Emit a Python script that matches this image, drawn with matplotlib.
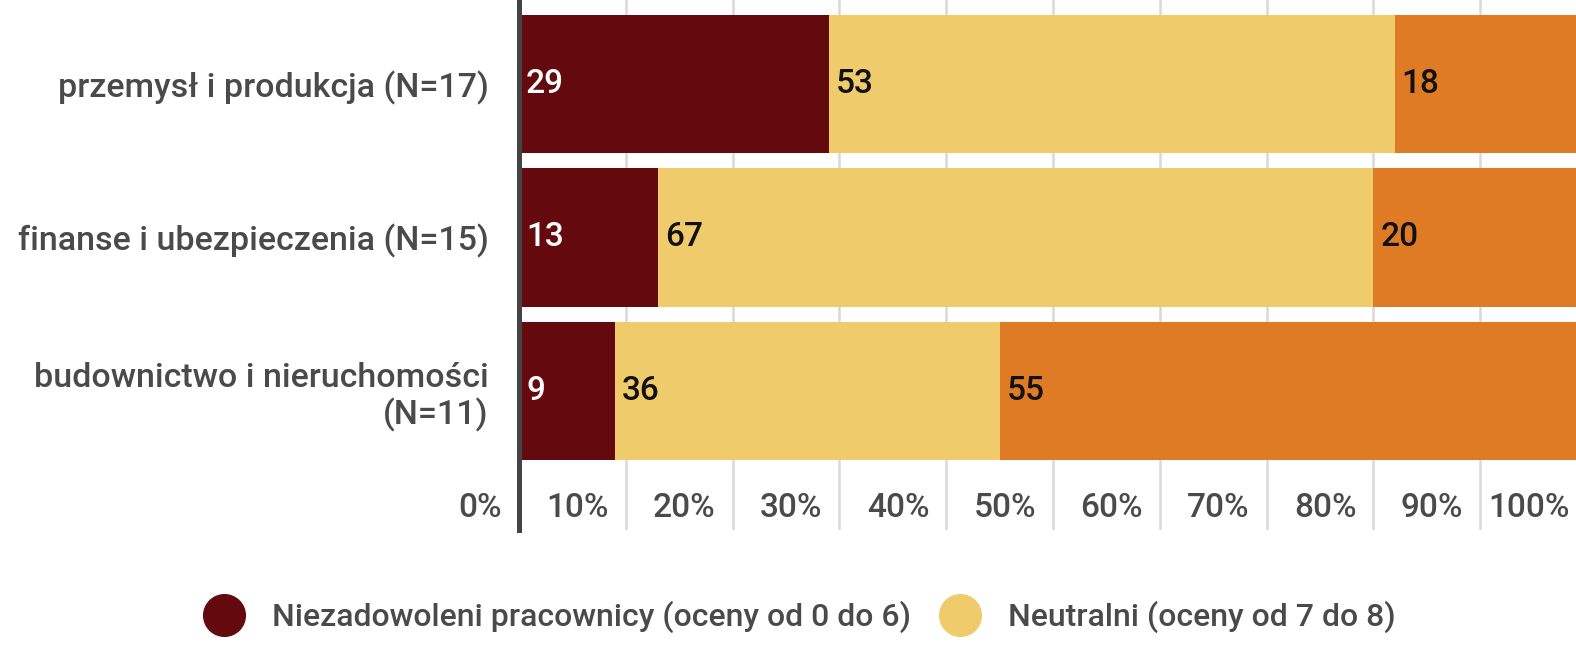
import numpy as np
import matplotlib
matplotlib.use('Agg')
from matplotlib import pyplot as plt
from matplotlib.lines import Line2D
from matplotlib.transforms import ScaledTranslation, blended_transform_factory

plt.rcParams['font.family'] = ['Roboto', 'DejaVu Sans']
plt.rcParams['font.weight'] = 'medium'

# Data
categories = ['przemysł i produkcja (N=17)',
              'finanse i ubezpieczenia (N=15)',
              'budownictwo i nieruchomości\n(N=11)']
niezadowoleni = [29, 13, 9]
neutralni = [53, 67, 36]
zadowoleni = [18, 20, 55]
series_names = ['Niezadowoleni pracownicy (oceny od 0 do 6)',
                'Neutralni (oceny od 7 do 8)']
ticks = [0, 10, 20, 30, 40, 50, 60, 70, 80, 90, 100]
tick_labels = ['%d%%' % t for t in ticks]

colors = ['#640a0f', '#f0cb6b', '#e07b25']
text_colors = ['white', '#111111', '#111111']
grey = '#4a4a4a'

W, H = 1576, 664
fig = plt.figure(figsize=(W / 100, H / 100), dpi=100)
ax = fig.add_axes([519 / W, (H - 530) / H, 1068 / W, 530 / H])

y = np.arange(len(categories))
left = np.zeros(len(categories))
for vals, c, tc in zip([niezadowoleni, neutralni, zadowoleni], colors, text_colors):
    vals = np.array(vals, dtype=float)
    ax.barh(y, vals, left=left, height=0.9, color=c, zorder=2)
    for yi, l, v in zip(y, left, vals):
        ax.text(l, yi, str(int(v)), color=tc, fontsize=24, va='center', ha='left',
                transform=ax.transData + ScaledTranslation(7 / 100, 0, fig.dpi_scale_trans),
                zorder=3)
    left += vals

ax.set_xlim(0, 100)
ax.set_ylim(2.906, -0.547)

# grid
ax.set_xticks(ticks)
ax.xaxis.grid(True, color='#d9d9d9', lw=1.8, zorder=0)
ax.tick_params(axis='x', length=0, labelbottom=False)

# tick labels inside axes, right aligned left of gridline
trans = blended_transform_factory(ax.transData, ax.transData) + \
    ScaledTranslation(-17 / 100, 0, fig.dpi_scale_trans)
for t, lab in zip(ticks, tick_labels):
    ax.text(t, 2.762, lab, fontsize=24, color=grey, ha='right', va='center', transform=trans)

ax.set_yticks(y)
ax.set_yticklabels(categories, fontsize=24.5, color=grey, ha='right', linespacing=1.15)
ax.tick_params(axis='y', length=0, pad=22)

for s in ['top', 'right', 'bottom']:
    ax.spines[s].set_visible(False)
ax.spines['left'].set_color('#444444')
ax.spines['left'].set_linewidth(3.6)
ax.spines['left'].set_zorder(4)

handles = [Line2D([], [], ls='', marker='o', markersize=30, color=c) for c in colors[:2]]
fig.legend(handles, series_names, loc='center left', bbox_to_anchor=(203 / W, (H - 617) / H),
           ncol=2, frameon=False, fontsize=23, labelcolor=grey, handlelength=1.3,
           handletextpad=0.85, columnspacing=0.9, borderpad=0, borderaxespad=0)

fig.savefig('out.png', dpi=100)
